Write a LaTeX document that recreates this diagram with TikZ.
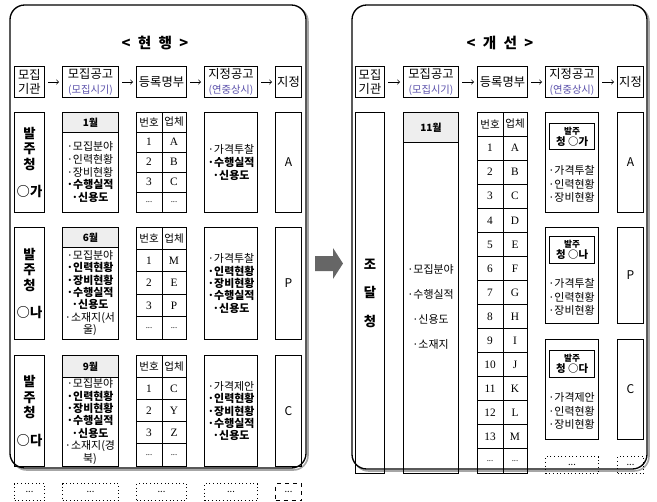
\documentclass[tikz,border=0pt]{standalone}
\usepackage{fontspec}
\setmainfont{Noto Sans CJK KR}
\newfontfamily\serifnum{Liberation Serif}
\usepackage{tikz}
\usetikzlibrary{positioning}

\newdimen\pxu
\pxu=0.75pt

\definecolor{subblue}{RGB}{90,80,170}
\definecolor{headgray}{RGB}{238,238,238}

\tikzset{
    box/.style={draw, line width=0.75pt, inner sep=0pt, anchor=north west, align=center},
    headbox/.style={box, minimum height=31\pxu, font=\fontsize{9.2}{10.8}\selectfont},
    monthbox/.style={box, fill=headgray, font=\bfseries\fontsize{7.5}{9}\selectfont},
    orderbox/.style={box, line width=1pt, font=\bfseries\fontsize{7.8}{8.5}\selectfont},
    itemtxt/.style={inner sep=0pt, align=center, font=\fontsize{8.2}{9.3}\selectfont},
    celltxt/.style={inner sep=0pt, font=\serifnum\fontsize{8.5}{10}\selectfont},
    cellhead/.style={inner sep=0pt, font=\fontsize{7.9}{9}\selectfont},
    dotbox/.style={box, dotted, minimum height=17\pxu, font=\fontsize{7}{8}\selectfont},
    arr/.style={->, line width=0.5pt, shorten >=3\pxu, shorten <=3\pxu},
}

\newcommand{\sub}[1]{{\color{subblue}\fontsize{7.7}{9}\selectfont #1}}
\newcommand{\celldots}{{\fontsize{6.5}{7}\selectfont ...}}

\begin{document}
\begin{tikzpicture}[x=0.75pt, y=-0.75pt]
        \useasboundingbox (0,0) rectangle (657,501);

        \draw[black!35, line width=1.2pt, rounded corners=11pt] (12,7) rectangle (308,470);
        \draw[fill=white, line width=1pt, rounded corners=11pt] (10,5) rectangle (306,468);
        \draw[black!35, line width=1.2pt, rounded corners=11pt] (354,7) rectangle (649,471);
        \draw[fill=white, line width=1pt, rounded corners=11pt] (352,5) rectangle (647,469);

        \node[font=\bfseries\fontsize{11}{13}\selectfont] (titleL) at (155,43) {<\enspace 현\enspace 행\enspace >};
        \node[font=\bfseries\fontsize{11}{13}\selectfont] (titleR) at (500,43) {<\enspace 개\enspace 선\enspace >};

        \node[headbox, minimum width=30\pxu] (lhA) at (14,66) {모집\\기관};
        \node[headbox, minimum width=56\pxu] (lhB) at (62,66) {모집공고\\\sub{(모집시기)}};
        \node[headbox, minimum width=50\pxu] (lhC) at (136,66) {등록명부};
        \node[headbox, minimum width=53\pxu] (lhD) at (204,66) {지정공고\\\sub{(연중상시)}};
        \node[headbox, minimum width=26\pxu] (lhE) at (275,66) {지정};

        \draw[arr] (lhA) -- (lhB);
        \draw[arr] (lhB) -- (lhC);
        \draw[arr] (lhC) -- (lhD);
        \draw[arr] (lhD) -- (lhE);

        \node[headbox, minimum width=29\pxu] (rhA) at (355,66) {모집\\기관};
        \node[headbox, minimum width=55\pxu] (rhB) at (403,66) {모집공고\\\sub{(모집시기)}};
        \node[headbox, minimum width=50\pxu] (rhC) at (477,66) {등록명부};
        \node[headbox, minimum width=53\pxu] (rhD) at (545,66) {지정공고\\\sub{(연중상시)}};
        \node[headbox, minimum width=26\pxu] (rhE) at (617,66) {지정};

        \draw[arr] (rhA) -- (rhB);
        \draw[arr] (rhB) -- (rhC);
        \draw[arr] (rhC) -- (rhD);
        \draw[arr] (rhD) -- (rhE);

        \node[box, minimum width=30\pxu, minimum height=100\pxu, font=\bfseries\fontsize{10}{11.6}\selectfont] (lo1) at (14,112) {발\\주\\청\\[9pt]○가};
        \node[box, minimum width=30\pxu, minimum height=112\pxu, font=\bfseries\fontsize{10}{11.6}\selectfont] (lo2) at (14,227) {발\\주\\청\\[9pt]○나};
        \node[box, minimum width=30\pxu, minimum height=111\pxu, font=\bfseries\fontsize{10}{11.6}\selectfont] (lo3) at (14,355) {발\\주\\청\\[9pt]○다};

        \node[box, minimum width=56\pxu, minimum height=100\pxu] (lm1) at (62,112) {};
        \node[monthbox, minimum width=56\pxu, minimum height=20\pxu] (lm1h) at (62,112) {1월};
        \node[itemtxt, font=\fontsize{8.2}{9.6}\selectfont] (lm1t) at (90,172) {·모집분야\\·인력현황\\·장비현황\\\textbf{·수행실적}\\\textbf{·신용도}};

        \node[box, minimum width=56\pxu, minimum height=112\pxu] (lm2) at (62,227) {};
        \node[monthbox, minimum width=56\pxu, minimum height=20\pxu] (lm2h) at (62,227) {6월};
        \node[itemtxt] (lm2t) at (90,293) {·모집분야\\\textbf{·인력현황}\\\textbf{·장비현황}\\\textbf{·수행실적}\\\textbf{·신용도}\\·소재지(서\\울)};

        \node[box, minimum width=56\pxu, minimum height=111\pxu] (lm3) at (62,355) {};
        \node[monthbox, minimum width=56\pxu, minimum height=22\pxu] (lm3h) at (62,355) {9월};
        \node[itemtxt] (lm3t) at (90,421.5) {·모집분야\\\textbf{·인력현황}\\\textbf{·장비현황}\\\textbf{·수행실적}\\\textbf{·신용도}\\·소재지(경\\북)};

        \draw[line width=0.75pt] (136,112) rectangle (186,212);
        \draw[line width=0.75pt] (162,112) -- (162,212);
        \foreach \k in {1,...,4}
            \draw[line width=0.75pt] (136,{112+20*\k}) -- (186,{112+20*\k});
        \node[cellhead] (lt1a0) at (149,122) {번호};
        \node[cellhead] (lt1b0) at (174,122) {업체};
        \foreach \n/\c [count=\k] in {1/A,2/B,3/C} {
            \node[celltxt] (lt1a\k) at (149,{122+20*\k}) {\n};
            \node[celltxt] (lt1b\k) at (174,{122+20*\k}) {\c};
        }
        \node[celltxt] (lt1a4) at (149,202) {\celldots};
        \node[celltxt] (lt1b4) at (174,202) {\celldots};

        \draw[line width=0.75pt] (136,227) rectangle (186,339);
        \draw[line width=0.75pt] (162,227) -- (162,339);
        \foreach \k in {1,...,4}
            \draw[line width=0.75pt] (136,{227+22.4*\k}) -- (186,{227+22.4*\k});
        \node[cellhead] (lt2a0) at (149,238.2) {번호};
        \node[cellhead] (lt2b0) at (174,238.2) {업체};
        \foreach \n/\c [count=\k] in {1/M,2/E,3/P} {
            \node[celltxt] (lt2a\k) at (149,{238.2+22.4*\k}) {\n};
            \node[celltxt] (lt2b\k) at (174,{238.2+22.4*\k}) {\c};
        }
        \node[celltxt] (lt2a4) at (149,327.8) {\celldots};
        \node[celltxt] (lt2b4) at (174,327.8) {\celldots};

        \draw[line width=0.75pt] (136,355) rectangle (186,466);
        \draw[line width=0.75pt] (162,355) -- (162,466);
        \foreach \k in {1,...,4}
            \draw[line width=0.75pt] (136,{355+22.2*\k}) -- (186,{355+22.2*\k});
        \node[cellhead] (lt3a0) at (149,366.1) {번호};
        \node[cellhead] (lt3b0) at (174,366.1) {업체};
        \foreach \n/\c [count=\k] in {1/C,2/Y,3/Z} {
            \node[celltxt] (lt3a\k) at (149,{366.1+22.2*\k}) {\n};
            \node[celltxt] (lt3b\k) at (174,{366.1+22.2*\k}) {\c};
        }
        \node[celltxt] (lt3a4) at (149,454.9) {\celldots};
        \node[celltxt] (lt3b4) at (174,454.9) {\celldots};

        \node[box, minimum width=53\pxu, minimum height=100\pxu, font=\fontsize{8.2}{10}\selectfont] (ld1) at (204,112) {·가격투찰\\\textbf{·수행실적}\\\textbf{·신용도}};
        \node[box, minimum width=53\pxu, minimum height=112\pxu, font=\fontsize{8.2}{9.3}\selectfont] (ld2) at (204,227) {·가격투찰\\\textbf{·인력현황}\\\textbf{·장비현황}\\\textbf{·수행실적}\\\textbf{·신용도}};
        \node[box, minimum width=53\pxu, minimum height=111\pxu, font=\fontsize{8.2}{9.3}\selectfont] (ld3) at (204,355) {·가격제안\\\textbf{·인력현황}\\\textbf{·장비현황}\\\textbf{·수행실적}\\\textbf{·신용도}};

        \node[box, minimum width=26\pxu, minimum height=100\pxu, font=\fontsize{9}{10}\selectfont] (le1) at (275,112) {A};
        \node[box, minimum width=26\pxu, minimum height=112\pxu, font=\fontsize{9}{10}\selectfont] (le2) at (275,227) {P};
        \node[box, minimum width=26\pxu, minimum height=111\pxu, font=\fontsize{9}{10}\selectfont] (le3) at (275,355) {C};

        \node[dotbox, minimum width=30\pxu] (lf1) at (14,483) {...};
        \node[dotbox, minimum width=56\pxu] (lf2) at (62,483) {...};
        \node[dotbox, minimum width=50\pxu] (lf3) at (136,483) {...};
        \node[dotbox, minimum width=53\pxu] (lf4) at (204,483) {...};
        \node[dotbox, dashed, minimum width=26\pxu] (lf5) at (275,483) {...};

        \fill[black!60] (315,256) -- (333,256) -- (333,248) -- (343,263.5) -- (333,279) -- (333,271) -- (315,271) -- cycle;

        \node[box, minimum width=29\pxu, minimum height=361\pxu, font=\bfseries\fontsize{10}{21.4}\selectfont] (ro) at (355,112) {조\\달\\청};

        \node[box, minimum width=55\pxu, minimum height=361\pxu] (rm) at (403,112) {};
        \node[monthbox, minimum width=55\pxu, minimum height=30\pxu] (rmh) at (403,112) {11월};
        \node[itemtxt, font=\fontsize{8.2}{18.75}\selectfont] (rmt) at (430.5,307) {·모집분야\\·수행실적\\·신용도\\·소재지};

        \draw[line width=0.75pt] (477,112) rectangle (527,473);
        \draw[line width=0.75pt] (503,112) -- (503,473);
        \foreach \k in {1,...,14}
            \draw[line width=0.75pt] (477,{112+24.067*\k}) -- (527,{112+24.067*\k});
        \node[cellhead] (rta0) at (490,124) {번호};
        \node[cellhead] (rtb0) at (515,124) {업체};
        \foreach \n/\c [count=\k] in {1/A,2/B,3/C,4/D,5/E,6/F,7/G,8/H,9/I,10/J,11/K,12/L,13/M} {
            \node[celltxt] (rta\k) at (490,{124.03+24.067*\k}) {\n};
            \node[celltxt] (rtb\k) at (515,{124.03+24.067*\k}) {\c};
        }
        \node[celltxt] (rta14) at (490,461) {\celldots};
        \node[celltxt] (rtb14) at (515,461) {\celldots};

        \node[box, minimum width=53\pxu, minimum height=100\pxu] (rd1) at (545,112) {};
        \node[orderbox, minimum width=45\pxu, minimum height=26\pxu] (rd1o) at (549,123) {{\fontsize{6.5}{7}\selectfont 발주}\\청 ○가};
        \node[itemtxt, font=\fontsize{8.2}{10}\selectfont] (rd1t) at (571.5,184) {·가격투찰\\·인력현황\\·장비현황};

        \node[box, minimum width=53\pxu, minimum height=96\pxu] (rd2) at (545,227) {};
        \node[orderbox, minimum width=45\pxu, minimum height=27\pxu] (rd2o) at (549,236) {{\fontsize{6.5}{7}\selectfont 발주}\\청 ○나};
        \node[itemtxt, font=\fontsize{8.2}{10}\selectfont] (rd2t) at (571.5,297) {·가격투찰\\·인력현황\\·장비현황};

        \node[box, minimum width=53\pxu, minimum height=100\pxu] (rd3) at (545,339) {};
        \node[orderbox, minimum width=45\pxu, minimum height=27\pxu] (rd3o) at (549,350) {{\fontsize{6.5}{7}\selectfont 발주}\\청 ○다};
        \node[itemtxt, font=\fontsize{8.2}{10}\selectfont] (rd3t) at (571.5,411) {·가격제안\\·인력현황\\·장비현황};

        \node[dotbox, minimum width=53\pxu] (rd4) at (545,456) {...};

        \node[box, minimum width=26\pxu, minimum height=100\pxu, font=\fontsize{9}{10}\selectfont] (re1) at (617,112) {A};
        \node[box, minimum width=26\pxu, minimum height=96\pxu, font=\fontsize{9}{10}\selectfont] (re2) at (617,227) {P};
        \node[box, minimum width=26\pxu, minimum height=100\pxu, font=\fontsize{9}{10}\selectfont] (re3) at (617,339) {C};
        \node[dotbox, minimum width=26\pxu] (re4) at (617,456) {...};

    \end{tikzpicture}
\end{document}
